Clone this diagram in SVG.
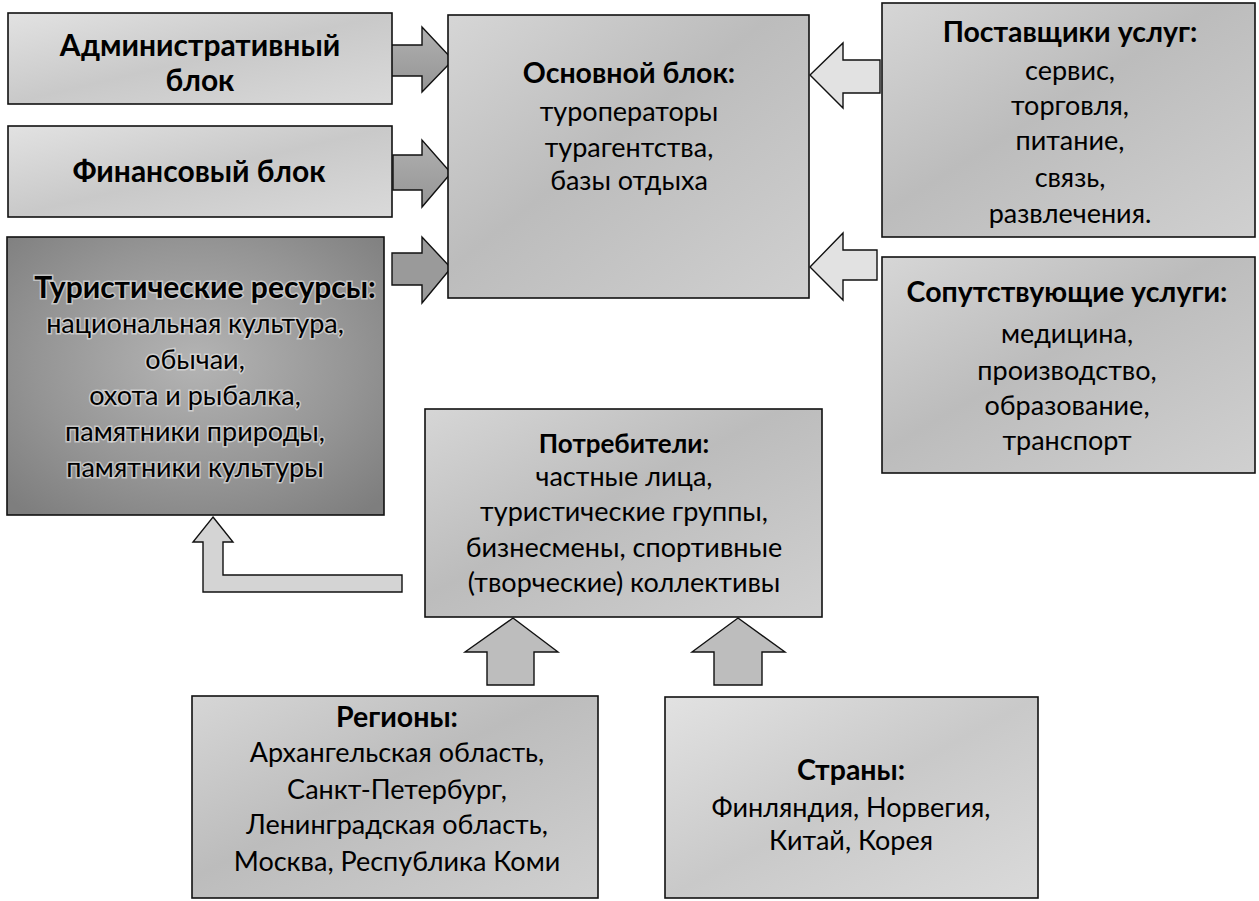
<svg xmlns="http://www.w3.org/2000/svg" width="1259" height="901" viewBox="0 0 1259 901">
<defs>
<linearGradient id="gLight" x1="0" y1="0" x2="1" y2="1">
<stop offset="0" stop-color="#e2e2e2"/><stop offset="0.5" stop-color="#c9c9c9"/><stop offset="1" stop-color="#dadada"/>
</linearGradient>
<linearGradient id="gMid" x1="0" y1="0" x2="1" y2="1">
<stop offset="0" stop-color="#d6d6d6"/><stop offset="0.45" stop-color="#bcbcbc"/><stop offset="1" stop-color="#d0d0d0"/>
</linearGradient>
<radialGradient id="gDark" cx="0.5" cy="0.45" r="0.7">
<stop offset="0" stop-color="#b4b4b4"/><stop offset="0.6" stop-color="#959595"/><stop offset="1" stop-color="#7e7e7e"/>
</radialGradient>
<linearGradient id="gArrowDark" x1="0" y1="0" x2="0" y2="1">
<stop offset="0" stop-color="#b0b0b0"/><stop offset="1" stop-color="#959595"/>
</linearGradient>
</defs>
<style>
.box{stroke:#111;stroke-width:1.6}
.arr{stroke:#111;stroke-width:1.4;stroke-linejoin:miter}
text{font-family:Lato,"Liberation Sans",sans-serif;fill:#000;text-anchor:middle}
.big{font-size:30px;font-weight:700}
.h{font-size:28.5px;font-weight:700}
.h2{font-size:30px;font-weight:700}
.h3{font-size:26px;font-weight:700}
.b{font-size:27px;font-weight:400}
.halo{paint-order:stroke;stroke:#e8e8e8;stroke-width:3;stroke-opacity:0.6}
</style>
<g id="connectors">
<polygon class="arr" fill="url(#gArrowDark)" points="390,45 422,45 422,27 453,60 422,92 422,76 390,76"/>
<polygon class="arr" fill="url(#gArrowDark)" points="393,155 422,155 422,140 451,173 422,207 422,190 393,190"/>
<polygon class="arr" fill="#9a9a9a" points="392,253 422,253 422,237 451,268 422,303 422,285 392,285"/>
<polygon class="arr" fill="#e2e2e2" points="880,60 843,60 843,43 810,75 843,108 843,93 880,93"/>
<polygon class="arr" fill="#e2e2e2" points="877,250 843,250 843,233 810,267 843,300 843,280 877,280"/>
<polygon class="arr" fill="#bdbdbd" points="513,618 558,652 534,652 534,685 487,685 487,652 465,652"/>
<polygon class="arr" fill="#bdbdbd" points="738,618 785,652 762,652 762,685 714,685 714,652 692,652"/>
<polygon class="arr" fill="#d4d4d4" points="213,517 233,542 223,542 223,575 402,575 402,592 203,592 203,542 193,542"/>
</g>
<g id="admin">
<rect class="box" x="8" y="13" width="384" height="91" fill="url(#gLight)"/>
<text class="big" x="200" y="56">Административный</text>
<text class="big" x="200" y="91">блок</text>
</g>
<g id="finance">
<rect class="box" x="8" y="126" width="384" height="91" fill="url(#gLight)"/>
<text class="big" x="199" y="182">Финансовый блок</text>
</g>
<g id="resources">
<rect class="box" x="7" y="237" width="377" height="278" fill="url(#gDark)"/>
<text class="h2 halo" x="205" y="298">Туристические ресурсы:</text>
<text class="b halo" x="195" y="333">национальная культура,</text>
<text class="b halo" x="195" y="369">обычаи,</text>
<text class="b halo" x="195" y="405">охота и рыбалка,</text>
<text class="b halo" x="195" y="441">памятники природы,</text>
<text class="b halo" x="195" y="477">памятники культуры</text>
</g>
<g id="main">
<rect class="box" x="448" y="15" width="361" height="283" fill="url(#gMid)"/>
<text class="h" x="629" y="83">Основной блок:</text>
<text class="b" x="629" y="121">туроператоры</text>
<text class="b" x="629" y="157">турагентства,</text>
<text class="b" x="629" y="190">базы отдыха</text>
</g>
<g id="suppliers">
<rect class="box" x="882" y="3" width="373" height="234" fill="url(#gMid)"/>
<text class="h" x="1070" y="42">Поставщики услуг:</text>
<text class="b" x="1070" y="80">сервис,</text>
<text class="b" x="1070" y="115">торговля,</text>
<text class="b" x="1070" y="150">питание,</text>
<text class="b" x="1070" y="187">связь,</text>
<text class="b" x="1070" y="223">развлечения.</text>
</g>
<g id="accompanying">
<rect class="box" x="882" y="257" width="373" height="216" fill="url(#gMid)"/>
<text class="h" x="1067" y="302">Сопутствующие услуги:</text>
<text class="b" x="1067" y="343">медицина,</text>
<text class="b" x="1067" y="380">производство,</text>
<text class="b" x="1067" y="415">образование,</text>
<text class="b" x="1067" y="450">транспорт</text>
</g>
<g id="consumers">
<rect class="box" x="425" y="409" width="397" height="208" fill="url(#gMid)"/>
<text class="h3" x="624" y="453">Потребители:</text>
<text class="b" x="624" y="486">частные лица,</text>
<text class="b" x="624" y="521">туристические группы,</text>
<text class="b" x="624" y="557">бизнесмены, спортивные</text>
<text class="b" x="624" y="592">(творческие) коллективы</text>
</g>
<g id="regions">
<rect class="box" x="192" y="696" width="406" height="202" fill="url(#gMid)"/>
<text class="h" x="397" y="727">Регионы:</text>
<text class="b" x="397" y="762">Архангельская область,</text>
<text class="b" x="397" y="799">Санкт-Петербург,</text>
<text class="b" x="397" y="834">Ленинградская область,</text>
<text class="b" x="397" y="871">Москва, Республика Коми</text>
</g>
<g id="countries">
<rect class="box" x="665" y="697" width="373" height="201" fill="url(#gLight)"/>
<text class="h" x="851" y="780">Страны:</text>
<text class="b" x="851" y="817">Финляндия, Норвегия,</text>
<text class="b" x="851" y="850">Китай, Корея</text>
</g>
</svg>
